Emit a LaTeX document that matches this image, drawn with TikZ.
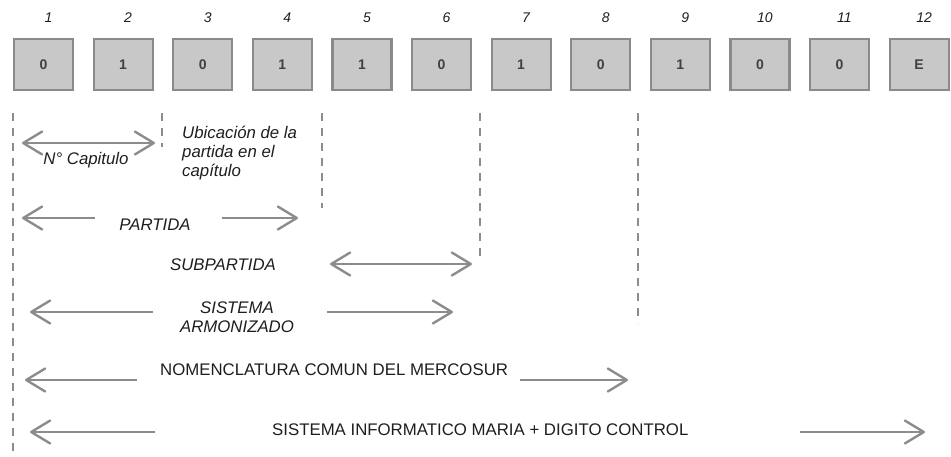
\documentclass[tikz,border=0pt]{standalone}
\usepackage{fontspec}
\setmainfont{Liberation Sans}
\usetikzlibrary{arrows.meta}
\definecolor{boxfill}{HTML}{C8C8C8}
\definecolor{boxline}{HTML}{8A8A8A}
\definecolor{rulegray}{HTML}{8C8C8C}
\definecolor{txt}{HTML}{1E1E1E}
\begin{document}
\begin{tikzpicture}[x=1pt,y=-1pt,
  barb/.tip={Straight Barb[length=19pt,width=23pt,round]},
  digitbox/.style={draw=boxline, fill=boxfill, line width=2.2pt,
    minimum width=59pt, minimum height=51pt, inner sep=0pt,
    font=\fontsize{14}{14}\selectfont\bfseries, text=txt!85},
  posnum/.style={font=\fontsize{14}{14}\selectfont\itshape, text=txt},
  guide/.style={draw=rulegray, line width=2.2pt, dash pattern=on 8pt off 7pt},
  span/.style={draw=rulegray, line width=2.4pt},
  lbl/.style={font=\fontsize{16.8}{19}\selectfont\itshape, text=txt, inner sep=0pt},
  lblup/.style={font=\fontsize{16.8}{19}\selectfont, text=txt, inner sep=0pt},
]
\useasboundingbox (0,0) rectangle (951,456);

% digit cells with their position numbers
\foreach \i/\d in {1/0,2/1,3/0,4/1,5/1,6/0,7/1,8/0,9/1,10/0,11/0,12/E} {
  \node[digitbox] (b\i) at ({43.5+79.6*(\i-1)},64.5) {\d};
  \node[posnum] (n\i) at ({48.5+79.6*(\i-1)},18) {\i};
}

% dashed boundaries between digit groups
\coordinate (gAt) at (13,113);  \coordinate (gAb) at (13,456);
\coordinate (gBt) at (162,113); \coordinate (gBb) at (162,147);
\coordinate (gCt) at (322,113); \coordinate (gCb) at (322,208);
\coordinate (gDt) at (480,113); \coordinate (gDb) at (480,260);
\coordinate (gEt) at (638,113); \coordinate (gEb) at (638,323);
\draw[guide] (gAt) -- (gAb);
\draw[guide] (gBt) -- (gBb);
\draw[guide] (gCt) -- (gCb);
\draw[guide] (gDt) -- (gDb);
\draw[guide] (gEt) -- (gEb);

% capitulo
\coordinate (capL) at (22,143); \coordinate (capR) at (155,143);
\draw[span, barb-barb] (capL) -- (capR);
\node[lbl] (cap) at (86,160) {N° Capitulo};
\node[lbl, anchor=north west, align=left] (ubic) at (182,126)
  {Ubicación de la\\partida en el\\capítulo};

% partida
\coordinate (parL) at (22,218);  \coordinate (parLt) at (95,218);
\coordinate (parRt) at (222,218); \coordinate (parR) at (298,218);
\node[lbl] (par) at (155,225) {PARTIDA};
\draw[span, -barb] (parLt) -- (parL);
\draw[span, -barb] (parRt) -- (parR);

% subpartida
\node[lbl] (sub) at (223,265) {SUBPARTIDA};
\coordinate (subL) at (330,264); \coordinate (subR) at (472,264);
\draw[span, barb-barb] (subL) -- (subR);

% sistema armonizado
\node[lbl, align=center] (sa) at (237,317) {SISTEMA\\ARMONIZADO};
\coordinate (saL) at (30,312);  \coordinate (saLt) at (153,312);
\coordinate (saRt) at (327,312); \coordinate (saR) at (453,312);
\draw[span, -barb] (saLt) -- (saL);
\draw[span, -barb] (saRt) -- (saR);

% nomenclatura comun
\node[lblup, anchor=west] (ncm) at (160,370) {NOMENCLATURA COMUN DEL MERCOSUR};
\coordinate (ncL) at (25,380);  \coordinate (ncLt) at (137,380);
\coordinate (ncRt) at (520,380); \coordinate (ncR) at (628,380);
\draw[span, -barb] (ncLt) -- (ncL);
\draw[span, -barb] (ncRt) -- (ncR);

% sistema informatico
\node[lblup, anchor=west] (sim) at (272,430) {SISTEMA INFORMATICO MARIA + DIGITO CONTROL};
\coordinate (siL) at (30,432);  \coordinate (siLt) at (155,432);
\coordinate (siRt) at (800,432); \coordinate (siR) at (925,432);
\draw[span, -barb] (siLt) -- (siL);
\draw[span, -barb] (siRt) -- (siR);
\end{tikzpicture}
\end{document}
